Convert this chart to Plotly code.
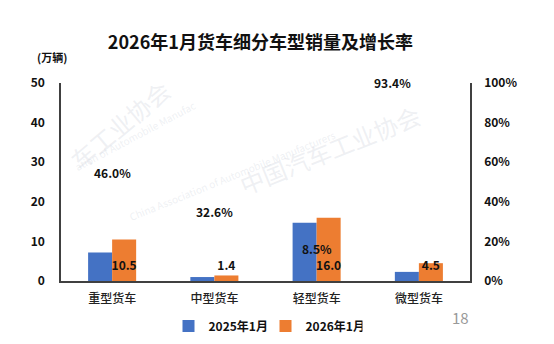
import plotly.graph_objects as go

categories = ["重型货车", "中型货车", "轻型货车", "微型货车"]
sales_2025 = [7.2, 1.0, 14.7, 2.3]
sales_2026 = [10.5, 1.4, 16.0, 4.5]
growth = [46.0, 32.6, 8.5, 93.4]
left_ticks = [0, 10, 20, 30, 40, 50]
right_ticks = [0, 20, 40, 60, 80, 100]

FONT = "Noto Sans CJK SC"
BLUE = "#4472C4"
ORANGE = "#ED7D31"
W = 0.235
xs = list(range(len(categories)))

fig = go.Figure()
fig.add_trace(go.Bar(x=xs, y=sales_2025, name="2025年1月", marker_color=BLUE,
                     width=W, offset=-W, marker_line_width=0))
fig.add_trace(go.Bar(x=xs, y=sales_2026, name="2026年1月", marker_color=ORANGE,
                     width=W, offset=0, marker_line_width=0))
# orange bar value labels near the base
fig.add_trace(go.Scatter(x=[i + W / 2 for i in xs], y=[3.5] * len(xs), mode="text",
                         text=[f"{v:.1f}" for v in sales_2026], textposition="middle center",
                         textfont=dict(family=FONT, size=12, color="#111", weight="bold"),
                         showlegend=False, hoverinfo="skip"))
# invisible anchor trace so y2 is drawn
fig.add_trace(go.Scatter(x=xs, y=growth, yaxis="y2", mode="markers",
                         marker=dict(opacity=0), showlegend=False, hoverinfo="skip"))

fig.update_layout(
    width=554, height=344,
    margin=dict(l=61, r=84, t=83, b=63, autoexpand=False),
    paper_bgcolor="white", plot_bgcolor="white",
    font=dict(family=FONT, color="#111"),
    title=dict(text="<b>2026年1月货车细分车型销量及增长率</b>", x=0.47, xanchor="center",
               y=1 - 43 / 344, yanchor="middle", font=dict(size=18, family=FONT, color="#111")),
    xaxis=dict(range=[-0.5, 3.5], tickvals=xs, ticktext=categories, showgrid=False,
               zeroline=False, showline=True, linecolor="#404040", linewidth=1.5,
               ticks="", ticklabelstandoff=6,
               tickfont=dict(size=12, family=FONT, color="#222", weight=500), fixedrange=True),
    yaxis=dict(range=[0, 50], tickvals=left_ticks, showgrid=False, zeroline=False,
               showline=True, linecolor="#404040", linewidth=1.5, ticks="",
               ticklabelstandoff=12,
               tickfont=dict(size=12, family=FONT, color="#111", weight="bold")),
    yaxis2=dict(range=[0, 100], tickvals=right_ticks, ticktext=[f"{t}%" for t in right_ticks],
                overlaying="y", side="right", showgrid=False, zeroline=False,
                showline=True, linecolor="#404040", linewidth=1.5, ticks="",
                ticklabelstandoff=10,
                tickfont=dict(size=12, family=FONT, color="#111", weight="bold")),
    legend=dict(orientation="h", x=0.5, xanchor="center", y=-0.227, yanchor="middle",
                font=dict(size=12, family=FONT, color="#111", weight="bold"),
                itemwidth=30, entrywidth=52, traceorder="normal"),
    bargap=0.53,
    showlegend=True,
)

ann = []
# growth labels on secondary axis
shifts_y = [17, 5, 16, 14]
shifts_x = [0, 0, 0, -26]
for i, g in enumerate(growth):
    ann.append(dict(text=f"{g:.1f}%", x=xs[i], y=g, xref="x", yref="y2",
                    yshift=shifts_y[i], xshift=shifts_x[i], showarrow=False,
                    xanchor="center", yanchor="middle",
                    font=dict(size=12, family=FONT, color="#111", weight="bold")))

for t, xpx, ypx, f in [
    ("<b>(万辆)</b>", 52, 57, dict(size=11, family=FONT, color="#111")),
    ("18", 460, 317, dict(size=15, color="#999", family=FONT)),
]:
    ann.append(dict(text=t, xref="paper", yref="paper",
                    x=(xpx - 61) / 409, y=(281 - ypx) / 198,
                    xanchor="center", yanchor="middle", showarrow=False, font=f))
# faint watermark
wm = [
    ("中国汽车工业协会", 330, 95, 24, -22),
    ("China Association of Automobile Manufacturers", 340, 125, 10, -22),
    ("车工业协会", 60, 70, 24, -40),
    ("ation of Automobile Manufac", 70, 95, 10, -28),
]
for t, xpx, ypx, sz, ang in wm:
    ann.append(dict(text=t, xref="paper", yref="paper",
                    x=(xpx - 61) / 409, y=(281 - ypx) / 198, showarrow=False,
                    textangle=ang, font=dict(size=sz, family=FONT, color="rgba(200,205,215,0.3)")))
fig.update_layout(annotations=ann)

fig.write_html("out.html")
